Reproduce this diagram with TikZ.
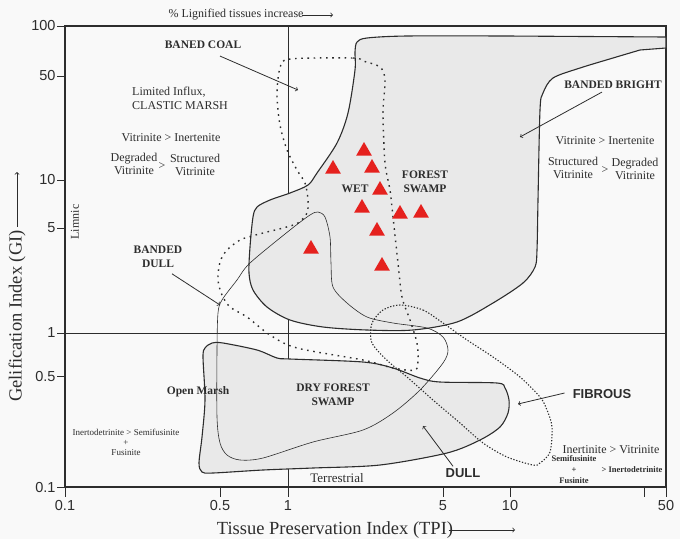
\documentclass[tikz,border=0pt]{standalone}
\usepackage{fontspec}
\setmainfont{Liberation Serif}
\setsansfont{Liberation Sans}
\usepackage{tikz}
\usetikzlibrary{arrows, calc, shapes.geometric}
\definecolor{plotline}{RGB}{45,45,45}
\definecolor{swampfill}{RGB}{233,233,233}
\definecolor{pagefill}{RGB}{249,249,249}
\definecolor{marker-red}{RGB}{229,33,30}

\begin{document}
\begin{tikzpicture}[x=1pt, y=-1pt,
	region/.style={draw=plotline, line width=1.1pt, fill=swampfill},
	thinline/.style={draw=plotline, line width=0.6pt},
	sparsedots/.style={draw=plotline, line width=1.4pt, dash pattern=on 1.6pt off 4.6pt},
	densedots/.style={draw=plotline, line width=1.1pt, dash pattern=on 1.3pt off 1.7pt},
	tri/.style={regular polygon, regular polygon sides=3, fill=marker-red, inner sep=0pt, minimum size=18pt},
	lbl/.style={font={\fontsize{12}{13}\selectfont}, text=plotline, inner sep=2pt},
	blbl/.style={lbl, font={\fontsize{11.5}{13.5}\selectfont\bfseries}},
	slbl/.style={lbl, font={\sffamily\bfseries\fontsize{13}{15}\selectfont}},
	small/.style={lbl, font={\fontsize{9}{10}\selectfont}},
	tick/.style={font={\sffamily\fontsize{14.5}{16}\selectfont}, text=plotline},
	arr/.style={->, draw=plotline, line width=0.8pt},
	]
					\useasboundingbox (0,0) rectangle (680,539);
					\fill[pagefill] (0,0) rectangle (680,539);
					
					\draw[plotline, line width=0.9pt] (288,26) -- (288,487);
					\draw[plotline, line width=0.9pt] (65,333) -- (666,333);
					\draw[plotline, line width=1.1pt] (65,26) rectangle (666,487);
					
					\draw[region] (666,48) -- (666,37) -- plot[smooth, tension=0.5] coordinates {(507,36) (407,36) (367,38) (357,42) (355,52) (355,70) (348,113) (337,143) (317,173) (308,185) (290,193) (270,200) (257,207) (253,217) (250,247) (249,273) (253,290) (267,307) (290,320) (323,327) (367,330) (413,330) (457,322) (493,303) (523,283) (535,267) (537,250) (538,200) (540,110) (543,93) (553,78) (580,68) (613,58) (640,50)} -- cycle;
					\draw[region] plot[smooth cycle, tension=0.5] coordinates {(212,343) (223,343) (257,350) (277,358) (290,359) (363,362) (393,368) (420,378) (440,382) (497,383) (505,388) (509,400) (508,413) (500,427) (480,440) (447,453) (380,465) (313,468) (263,470) (213,473) (202,472) (199,463) (202,437) (205,400) (203,357) (205,348)};
					
					\draw[thinline] plot[smooth cycle, tension=0.5] coordinates {(218,313) (222,300) (237,280) (250,263) (290,230) (310,215) (318,212) (325,217) (330,237) (331,263) (333,287) (347,303) (367,317) (393,323) (427,328) (443,337) (448,350) (443,363) (420,390) (393,413) (363,430) (313,442) (263,458) (240,460) (227,455) (220,443) (217,417) (217,350)};
					\draw[sparsedots] plot[smooth cycle, tension=0.5] coordinates {(290,59) (353,58) (363,61) (380,67) (385,80) (383,113) (385,163) (390,190) (393,217) (398,263) (402,297) (410,320) (417,343) (418,360) (415,370) (393,368) (363,360) (297,348) (270,335) (247,317) (230,307) (222,295) (218,280) (220,262) (227,250) (240,240) (252,236) (267,232) (283,228) (298,223) (307,213) (308,200) (305,183) (297,170) (287,150) (280,125) (277,95) (280,68)};
					\draw[densedots] plot[smooth cycle, tension=0.5] coordinates {(400,305) (423,310) (443,323) (467,340) (493,357) (520,377) (540,397) (547,410) (552,427) (550,452) (540,463) (533,465) (507,457) (483,443) (460,423) (433,400) (407,377) (390,363) (377,350) (371,340) (372,323) (383,310)};
					
					\node[tri] at (364,151) (t1) {};
					\node[tri] at (333,169) (t2) {};
					\node[tri] at (372,168) (t3) {};
					\node[tri] at (380,190) (t4) {};
					\node[tri] at (362,208) (t5) {};
					\node[tri] at (400,214) (t6) {};
					\node[tri] at (421,213) (t7) {};
					\node[tri] at (377,231) (t8) {};
					\node[tri] at (311,249) (t9) {};
					\node[tri] at (382,266) (t10) {};
					
					\node[lbl] at (236,15) (lig) {\% Lignified tissues increase};
					\coordinate (ligend) at (333,15);
					\draw[arr] ($(lig.east)+(-4,0)$) -- (ligend);
					
					\node[blbl] at (203,45) (bcoal) {BANED COAL};
					\coordinate (bcoaltip) at (298,90);
					\draw[arr] ($(bcoal.south)+(17,5)$) -- (bcoaltip);
					
					\node[lbl, anchor=west, align=left, font={\fontsize{12}{14}\selectfont}] at (130,98) (clastic) {Limited Influx,\\CLASTIC MARSH};
					\node[lbl] at (171,138) (vitin1) {Vitrinite > Inertenite};
					\node[lbl, align=center] at (134,164) (degr1) {Degraded\\Vitrinite};
					\node[lbl] at (162,166) (gtl) {>};
					\node[lbl, align=center] at (195,165) (struc1) {Structured\\Vitrinite};
					\node[lbl, rotate=90] at (75,222) (limnic) {Limnic};
					
					\node[blbl, align=center] at (158,257) (bdull) {BANDED\\DULL};
					\coordinate (bdulltip) at (220,305);
					\draw[arr] ($(bdull.south)+(14,4)$) -- (bdulltip);
					
					\node[blbl] at (198,392) (omarsh) {Open Marsh};
					\node[small, align=center] at (126,442) (inerto1) {Inertodetrinite > Semifusinite\\+\\Fusinite};
					\node[blbl, align=center, font={\fontsize{11.5}{14}\selectfont\bfseries}] at (333,395) (dry) {DRY FOREST\\SWAMP};
					\node[lbl, font={\fontsize{13}{15}\selectfont}] at (337,478) (terr) {Terrestrial};
					
					\node[slbl] at (463,473) (dull) {DULL};
					\coordinate (dulltip) at (423,426);
					\draw[arr] ($(dull.north)+(-10,0)$) -- (dulltip);
					
					\node[slbl] at (602,394) (fib) {FIBROUS};
					\coordinate (fibtip) at (518,404);
					\draw[arr] ($(fib.west)+(-6,-1)$) -- (fibtip);
					
					\node[lbl] at (611,450) (inervit) {Inertinite > Vitrinite};
					\node[small, align=center, font={\fontsize{8.5}{11}\selectfont\bfseries}] at (574,470) (semi) {Semifusinite\\+\\Fusinite};
					\node[small, font={\fontsize{8.5}{10}\selectfont\bfseries}] at (632,470) (inerto2) {> Inertodetrinite};
					
					\node[blbl] at (355,189) (wet) {WET};
					\node[blbl, align=center, font={\fontsize{11.5}{14}\selectfont\bfseries}] at (425,182) (forest) {FOREST\\SWAMP};
					
					\node[blbl] at (613,85) (bbright) {BANDED BRIGHT};
					\coordinate (bbrighttip) at (520,137);
					\draw[arr] ($(bbright.south)+(-11,1)$) -- (bbrighttip);
					
					\node[lbl] at (605,141) (vitin2) {Vitrinite > Inertenite};
					\node[lbl, align=center] at (573,168) (struc2) {Structured\\Vitrinite};
					\node[lbl] at (605,170) (gtr) {>};
					\node[lbl, align=center] at (635,169) (degr2) {Degraded\\Vitrinite};
					
					\foreach \px/\lab [count=\i] in {65/0.1, 220/0.5, 288/1, 443/5, 510/10, 666/50}
						\draw[plotline, line width=1pt] (\px,487) -- (\px,497) node[tick, below] (xt\i) {\lab};
					\draw[plotline, line width=1pt] (644,487) -- (644,497);
					\foreach \py/\lab [count=\i] in {26/100, 76/50, 180/10, 228/5, 333/1, 376/0.5, 487/0.1}
						\draw[plotline, line width=1pt] (65,\py) -- (57,\py) node[tick, left, inner sep=1pt] (yt\i) {\lab};
					
					\node[font={\fontsize{18.5}{20}\selectfont}, text=plotline, rotate=90] at (17,316) (gi) {Gelification Index (GI)};
					\coordinate (giend) at (17,172);
					\draw[arr] (gi.east) -- (giend);
					\node[font={\fontsize{18.5}{20}\selectfont}, text=plotline] at (335,530) (tpi) {Tissue Preservation Index (TPI)};
					\coordinate (tpiend) at (515,530);
					\draw[arr] ($(tpi.east)+(-8,0)$) -- (tpiend);
				\end{tikzpicture}
\end{document}
